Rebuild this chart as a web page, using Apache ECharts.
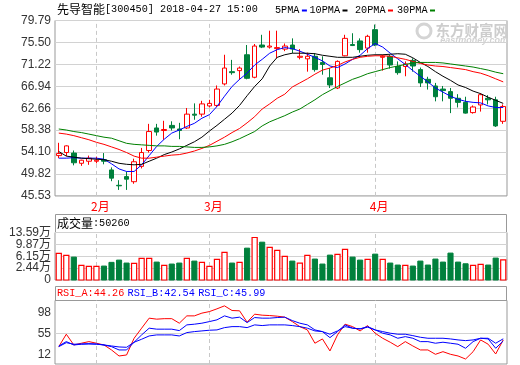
<!DOCTYPE html>
<html><head><meta charset="utf-8">
<script src="https://cdn.jsdelivr.net/npm/echarts@6/dist/echarts.min.js"></script>
<style>html,body{margin:0;padding:0;background:#fff}#c{width:520px;height:365px}</style>
</head><body><div id="c"></div>
<script>
// ---------- data ----------
const stockName = '先导智能';
const stockInfo = '[300450] 2018-04-27 15:00';
const maNames = ['5PMA', '10PMA', '20PMA', '30PMA'];
const volTitleLabel = '成交量';
const volTitleValue = '50260';
const rsiNames = ['RSI_A', 'RSI_B', 'RSI_C'];

const dates = [
 '2018-01-25','2018-01-26','2018-01-29','2018-01-30','2018-01-31',
 '2018-02-01','2018-02-02','2018-02-05','2018-02-06','2018-02-07','2018-02-08','2018-02-09',
 '2018-02-12','2018-02-13','2018-02-14','2018-02-22','2018-02-23','2018-02-26','2018-02-27','2018-02-28',
 '2018-03-01','2018-03-02','2018-03-05','2018-03-06','2018-03-07','2018-03-08','2018-03-09',
 '2018-03-12','2018-03-13','2018-03-14','2018-03-15','2018-03-16','2018-03-19','2018-03-20',
 '2018-03-21','2018-03-22','2018-03-23','2018-03-26','2018-03-27','2018-03-28','2018-03-29','2018-03-30',
 '2018-04-02','2018-04-03','2018-04-04','2018-04-09','2018-04-10','2018-04-11','2018-04-12','2018-04-13',
 '2018-04-16','2018-04-17','2018-04-18','2018-04-19','2018-04-20','2018-04-23','2018-04-24','2018-04-25',
 '2018-04-26','2018-04-27'];

const opens  = [53.4,54.0,53.9,51.9,52.3,52.3,52.6,50.6,47.6,49.3,48.3,51.3,54.4,58.8,58.3,59.3,58.6,58.8,61.5,61.5,
                63.1,63.2,67.4,69.8,70.0,73.1,68.7,75.0,74.6,74.3,74.2,75.0,72.6,72.3,72.8,71.6,68.6,66.6,72.9,75.1,
                75.8,74.4,78.0,72.6,72.8,70.8,70.8,72.0,70.2,68.3,67.0,66.4,65.9,64.6,63.8,61.8,63.3,64.6,64.3,60.1];
const closes = [53.8,55.3,52.0,52.5,52.9,52.5,52.3,49.0,47.5,48.8,52.2,54.0,58.1,58.0,58.5,58.8,58.3,61.5,61.3,63.5,
                63.6,66.4,70.5,69.6,70.5,68.5,74.8,74.6,74.8,74.5,74.8,74.2,72.8,72.8,70.2,71.2,67.2,71.8,76.3,74.9,
                74.1,76.7,75.0,72.8,71.1,69.6,71.3,70.9,67.6,67.6,64.9,66.1,64.6,63.8,61.7,62.9,65.3,64.3,59.2,63.0];
const lows   = [52.9,53.3,51.5,51.4,51.6,51.9,51.7,48.4,46.7,46.7,47.9,50.9,54.0,57.3,56.5,58.3,56.6,58.6,60.4,61.0,
                62.8,62.9,67.1,69.2,68.2,68.3,68.5,74.4,74.3,72.4,73.8,73.4,72.2,69.8,69.8,69.2,66.6,66.4,72.8,74.8,
                73.5,73.5,74.8,70.0,70.4,69.2,68.9,69.8,66.8,66.3,64.0,64.0,61.7,62.8,61.6,61.6,62.0,63.4,59.0,59.6];
const highs  = [55.9,55.4,54.4,52.6,53.4,53.2,53.9,51.1,48.6,50.3,52.8,54.9,59.6,59.6,60.2,60.1,59.8,62.7,63.6,64.1,
                64.3,67.1,73.1,72.1,70.8,75.0,75.2,77.0,77.8,77.8,75.3,76.3,74.2,73.5,73.4,72.8,70.5,72.0,77.0,77.3,
                76.3,77.0,79.0,73.1,73.1,71.8,71.8,72.4,70.6,68.8,67.6,67.0,66.6,65.4,64.9,63.2,65.6,65.2,64.9,63.4];

// volume in 万 (10k)
const volumes = [7.04,6.42,5.89,3.30,2.99,2.99,3.08,4.24,4.95,4.02,3.93,5.48,5.48,4.33,3.30,3.71,4.02,5.48,4.64,4.24,
                 2.99,5.17,7.35,4.02,4.24,8.69,12.03,10.56,8.91,7.98,6.11,4.64,4.02,6.42,5.27,3.71,6.51,6.73,8.29,5.89,
                 4.95,5.17,6.82,5.17,4.02,3.40,3.30,3.08,4.64,3.40,5.27,4.33,7.14,4.33,3.80,3.30,3.61,3.40,5.58,5.03];

const ma5  = [52.9,52.9,53.0,52.9,52.9,52.9,52.7,51.8,50.8,50.3,50.3,51.6,53.4,55.2,56.6,57.8,58.4,59.1,59.7,60.7,
              61.4,63.0,65.0,66.9,68.3,69.5,71.1,72.2,73.4,74.1,74.5,74.3,73.8,73.2,72.6,71.9,70.9,70.6,71.3,72.2,
              73.0,74.3,75.3,74.6,73.4,72.3,71.2,70.0,68.9,67.8,66.6,65.8,65.0,64.4,64.0,63.8,63.7,63.1,62.8,62.8];
const ma10 = [54.2,53.3,53.1,52.9,52.8,52.7,52.6,52.3,51.9,51.7,51.6,51.7,52.3,52.9,53.6,54.1,54.7,55.4,56.1,57.0,
              58.2,59.3,60.5,61.7,63.2,65.1,66.9,68.4,70.9,72.6,73.1,73.4,73.4,73.4,73.3,73.0,72.8,72.6,72.6,72.6,
              72.8,73.0,73.1,73.1,73.2,73.3,73.2,72.5,71.6,70.8,69.8,68.9,68.1,67.2,66.7,66.0,65.5,64.8,64.2,63.6];
const ma20 = [57.8,57.6,57.3,56.9,56.5,56.0,55.6,55.1,54.6,54.0,53.3,52.9,52.9,53.1,53.3,53.5,53.6,53.9,54.3,54.8,
              55.4,56.2,57.0,57.9,58.7,59.8,61.0,62.5,63.5,64.6,65.4,66.8,67.6,68.4,69.3,70.1,70.5,71.0,71.7,72.2,
              72.6,72.8,72.9,72.9,72.8,72.5,72.2,71.8,71.4,71.1,70.9,70.8,70.6,70.4,70.2,69.8,69.5,69.0,68.4,67.8];
const ma30 = [58.6,58.4,58.1,57.9,57.6,57.3,57.0,56.8,56.3,55.8,55.6,55.5,55.4,55.3,55.3,55.2,55.2,55.1,55.0,55.0,
              55.1,55.3,55.6,56.1,56.7,57.4,58.1,59.2,60.0,60.6,61.2,61.9,62.5,63.4,64.3,65.3,66.1,66.9,67.6,68.3,
              68.8,69.4,69.8,70.2,70.6,70.9,71.2,71.5,71.6,71.6,71.6,71.5,71.3,71.1,70.9,70.7,70.4,70.1,69.7,69.4];

const rsiA = [33.4,53.4,36.1,38.9,41.5,38.9,36.1,28.1,18.4,20.0,46.9,63.1,79.2,77.6,78.4,78.4,71.1,82.9,82.9,87.3,
              89.8,94.2,99.0,91.5,91.0,72.7,85.6,84.0,83.4,82.4,80.8,73.7,65.6,60.3,38.9,45.8,26.5,52.3,69.5,65.6,
              58.7,67.3,55.0,46.9,40.5,33.4,41.5,34.5,28.1,28.1,21.1,25.3,21.1,18.4,13.5,25.3,44.2,37.3,21.6,44.26];
const rsiB = [34.5,41.5,36.1,37.3,37.7,37.3,36.1,33.4,28.1,28.1,40.5,52.3,63.1,61.5,61.5,61.5,59.2,68.4,69.5,71.1,
              73.7,76.5,82.9,79.2,80.8,72.1,80.2,79.2,79.2,80.2,80.8,75.3,71.1,68.4,60.3,57.6,47.9,57.6,68.4,63.1,
              62.0,65.6,60.3,55.0,52.3,46.9,49.5,46.9,41.5,41.5,38.9,40.5,38.9,37.3,30.8,41.5,46.9,45.8,30.8,42.54];
const rsiC = [33.4,39.8,37.3,37.7,38.2,37.7,36.1,34.5,32.9,32.4,40.5,45.3,50.6,52.3,52.3,52.3,50.6,56.0,57.6,58.7,
              59.8,60.3,64.0,65.6,65.6,64.0,68.4,67.3,68.4,68.4,68.4,67.3,65.6,63.1,58.7,57.6,53.4,58.7,65.6,63.1,
              62.0,64.7,60.3,57.6,55.0,53.4,53.4,51.1,48.5,46.9,46.9,46.9,45.8,44.2,43.1,44.2,46.9,46.9,38.9,45.99];

const priceTicks    = [45.53,49.82,54.10,58.38,62.66,66.94,71.22,75.50,79.79];
const volTickValues = [-1.28,2.44,6.15,9.87,13.59];
const volTickLabels = ['0','2.44万','6.15万','9.87万','13.59万'];
const rsiTicks      = [12,55,98];
const rsiMidLine    = 55;

// ---------- style / layout ----------
const RED = '#ff0000', GREEN = '#00803c', BLUE = '#0000ff', BLACK = '#000000', MAGREEN = '#008000';
const GRIDC = '#d2d2d2', FRAME = '#999999', DASH = '#c8c8c8';
const L = 55, R = 13, W = 520 - L - R;
const MONO = "'Liberation Mono', monospace";
const CJK = "'Noto Sans CJK SC', sans-serif";
const NUMF = "'Liberation Sans', 'Noto Sans CJK SC', sans-serif";

const monthStarts = dates.filter((d, i) => i > 0 && d.slice(5, 7) !== dates[i - 1].slice(5, 7));
const monthSet = new Set(monthStarts);
const monthMarkLine = {
  silent: true, symbol: ['none', 'none'], z: 1, label: {show: false},
  lineStyle: {type: [4, 3], color: DASH, width: 1}, emphasis: {disabled: true},
  data: monthStarts.map(d => ({xAxis: d}))
};

function nearestIdx(arr, v) {
  let b = 0;
  arr.forEach((a, i) => { if (Math.abs(a - v) < Math.abs(arr[b] - v)) b = i; });
  return b;
}

const chart = echarts.init(document.getElementById('c'), null, {renderer: 'canvas'});

const xBase = {
  type: 'category', data: dates, boundaryGap: true,
  axisLine: {show: false}, axisTick: {show: false}, splitLine: {show: false}
};

const option = {
  animation: false,
  backgroundColor: '#fff',
  grid: [
    {left: L, right: R, top: 20.5, height: 175.4, show: true, borderColor: FRAME, borderWidth: 1},
    {left: L, right: R, top: 232.5, height: 47.5, show: true, borderColor: FRAME, borderWidth: 1},
    {left: L, right: R, top: 300.5, height: 63.5, show: true, borderColor: FRAME, borderWidth: 1}
  ],
  xAxis: [
    Object.assign({}, xBase, {gridIndex: 0, axisLabel: {
      show: true, interval: (idx, val) => monthSet.has(val),
      formatter: val => parseInt(val.slice(5, 7), 10) + '月',
      color: RED, fontSize: 12, fontFamily: CJK, margin: 5, padding: [0, 0, 0, 8]
    }}),
    Object.assign({}, xBase, {gridIndex: 1, axisLabel: {show: false}}),
    Object.assign({}, xBase, {gridIndex: 2, axisLabel: {show: false}})
  ],
  yAxis: [
    {type: 'value', gridIndex: 0, position: 'left', min: priceTicks[0], max: priceTicks[priceTicks.length - 1],
     axisLine: {show: false},
     axisTick: {show: false, customValues: priceTicks},
     axisLabel: {customValues: priceTicks, formatter: v => v.toFixed(2), color: '#333',
                 fontSize: 12, fontFamily: NUMF, margin: 4},
     splitLine: {show: true, lineStyle: {color: GRIDC, width: 1}}},
    {type: 'value', gridIndex: 1, position: 'left', min: volTickValues[0], max: volTickValues[volTickValues.length - 1],
     axisLine: {show: false},
     axisTick: {show: false, customValues: volTickValues},
     axisLabel: {customValues: volTickValues, formatter: v => volTickLabels[nearestIdx(volTickValues, v)],
                 color: '#333', fontSize: 12, fontFamily: NUMF, margin: 4},
     splitLine: {show: true, lineStyle: {color: GRIDC, width: 1}}},
    {type: 'value', gridIndex: 2, position: 'left', min: 5.5, max: 107.6,
     axisLine: {show: false}, axisTick: {show: false}, axisLabel: {show: false}, splitLine: {show: false}},
    {type: 'value', gridIndex: 2, position: 'left', offset: 0, min: -8, max: 123.2,
     axisLine: {show: false},
     axisTick: {show: false, customValues: rsiTicks},
     axisLabel: {customValues: rsiTicks, formatter: v => String(Math.round(v)), color: '#333',
                 fontSize: 12, fontFamily: NUMF, margin: 4},
     splitLine: {show: false}}
  ],
  series: [
    {type: 'candlestick', xAxisIndex: 0, yAxisIndex: 0, barWidth: 5, z: 2,
     data: opens.map((o, i) => [o, closes[i], lows[i], highs[i]]),
     itemStyle: {color: '#ffffff', color0: GREEN, borderColor: RED, borderColor0: GREEN, borderWidth: 1},
     emphasis: {disabled: true},
     markLine: monthMarkLine},
    ...[[ma5, BLUE], [ma10, BLACK], [ma20, RED], [ma30, MAGREEN]].map(([d, c]) => ({
      type: 'line', xAxisIndex: 0, yAxisIndex: 0, data: d, showSymbol: false, z: 4,
      lineStyle: {color: c, width: 1}, itemStyle: {color: c}, emphasis: {disabled: true}
    })),
    {type: 'custom', xAxisIndex: 1, yAxisIndex: 1, z: 2,
     data: volumes.map((v, i) => [i, v, closes[i] >= opens[i] ? 1 : -1]),
     encode: {x: 0, y: 1},
     renderItem: (params, api) => {
       const i = api.value(0), v = api.value(1), up = api.value(2) > 0;
       const top = api.coord([i, v]);
       const base = api.coord([i, volTickValues[0]]);
       const w = api.size([1, 0])[0] * 0.68;
       return {type: 'rect',
         shape: {x: top[0] - w / 2, y: top[1], width: w, height: base[1] - top[1]},
         style: up ? {fill: '#ffffff', stroke: RED, lineWidth: 1.2} : {fill: GREEN, stroke: GREEN, lineWidth: 1}};
     },
     markLine: monthMarkLine},
    ...[[rsiA, RED], [rsiB, BLUE], [rsiC, BLUE]].map(([d, c], k) => ({
      type: 'line', xAxisIndex: 2, yAxisIndex: 2, data: d, showSymbol: false, z: 4,
      lineStyle: {color: c, width: 1}, itemStyle: {color: c}, emphasis: {disabled: true},
      markLine: k === 0 ? {
        silent: true, symbol: ['none', 'none'], z: 1, label: {show: false},
        lineStyle: {type: 'solid', color: GRIDC, width: 1},
        data: [{yAxis: rsiMidLine}].concat(monthStarts.map(d => ({xAxis: d, lineStyle: {type: [4, 3], color: DASH}})))
      } : undefined
    }))
  ],
  graphic: [
    // title
    {type: 'text', left: 57, top: 3, z: 10, style: {
      text: '{c|' + stockName + '}{m|' + stockInfo + '}',
      rich: {c: {fontFamily: CJK, fontSize: 12, fill: '#000'}, m: {fontFamily: MONO, fontSize: 10.2, fill: '#000'}}
    }},
    // MA legend
    ...(() => {
      const xs = [275, 309.5, 355, 397];
      const cols = [BLUE, BLACK, RED, MAGREEN];
      const out = [];
      maNames.forEach((n, k) => {
        out.push({type: 'text', x: xs[k], y: 10, z: 10, style: {text: n, font: '10.2px ' + MONO, fill: '#000', verticalAlign: 'middle'}});
        const tx = xs[k] + n.length * 6.1 + 2.5;
        out.push({type: 'rect', z: 10, shape: {x: tx, y: 9.5, width: 5, height: 2}, style: {fill: cols[k]}});
      });
      return out;
    })(),
    // watermark
    {type: 'text', x: 508, y: 30, z: 1, style: {text: '东方财富网', font: 'bold 14.5px ' + CJK, fill: '#cdcdcd', align: 'right', verticalAlign: 'middle'}},
    {type: 'text', x: 508, y: 41, z: 1, style: {text: 'eastmoney.com', font: 'italic bold 9px ' + NUMF, fill: '#d2d2d2', align: 'right', verticalAlign: 'middle'}},
    {type: 'circle', z: 1, shape: {cx: 424, cy: 31, r: 7}, style: {fill: 'none', stroke: '#d4d4d4', lineWidth: 3}},
    // volume title box
    {type: 'rect', z: 0, shape: {x: L + 0.5, y: 214.5, width: W - 1, height: 18}, style: {fill: 'none', stroke: FRAME, lineWidth: 1}},
    {type: 'text', x: 57, y: 223.5, z: 10, style: {
      text: '{c|' + volTitleLabel + '}{m|:' + volTitleValue + '}', verticalAlign: 'middle',
      rich: {c: {fontFamily: CJK, fontSize: 12, fill: '#000'}, m: {fontFamily: MONO, fontSize: 10.2, fill: '#000'}}
    }},
    // RSI title box
    {type: 'rect', z: 0, shape: {x: L + 0.5, y: 286.5, width: W - 1, height: 14}, style: {fill: 'none', stroke: FRAME, lineWidth: 1}},
    {type: 'text', x: 57, y: 293.5, z: 10, style: {
      text: '{a|' + rsiNames[0] + ':' + rsiA[rsiA.length - 1].toFixed(2) + '} {b|' + rsiNames[1] + ':' + rsiB[rsiB.length - 1].toFixed(2) +
            '} {b|' + rsiNames[2] + ':' + rsiC[rsiC.length - 1].toFixed(2) + '}',
      verticalAlign: 'middle',
      rich: {a: {fontFamily: MONO, fontSize: 10.2, fill: RED}, b: {fontFamily: MONO, fontSize: 10.2, fill: BLUE}}
    }}
  ]
};
chart.setOption(option);
</script></body></html>
